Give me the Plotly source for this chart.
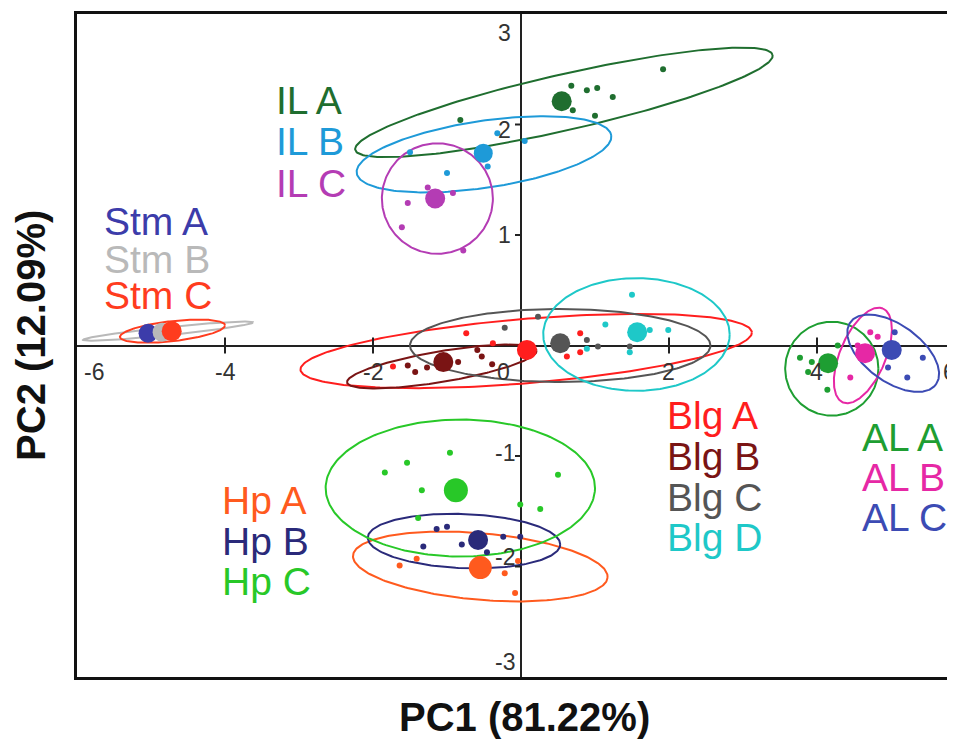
import numpy as np
import plotly.graph_objects as go

# ---------------- data ----------------
groups = ["IL A", "IL B", "IL C", "Stm A", "Stm B", "Stm C",
          "Blg A", "Blg B", "Blg C", "Blg D",
          "AL A", "AL B", "AL C", "Hp A", "Hp B", "Hp C"]

colors = ["#1f6e2f", "#1e9ad8", "#b43cb4", "#3c3caa", "#b9b9b9", "#ff3c1e",
          "#ff1e1e", "#7a1414", "#555555", "#1ec8c8",
          "#1e9e32", "#e628a5", "#3c4bb4", "#ff5a1e", "#2a2a7a", "#28c828"]

# group centroids (PC1, PC2)
centroid_x = [0.55, -0.51, -1.16, -5.04, -4.85, -4.72,
              0.08, -1.05, 0.53, 1.57,
              4.15, 4.65, 5.01, -0.55, -0.58, -0.88]
centroid_y = [2.21, 1.74, 1.33, 0.11, 0.12, 0.13,
              -0.04, -0.15, 0.02, 0.12,
              -0.16, -0.07, -0.04, -2.01, -1.76, -1.31]
centroid_size = [20, 19, 20, 19, 19, 20,
                 20, 20, 20, 20,
                 20, 20, 20, 23, 20, 24]

# individual samples
points_x = {
    "IL A": [0.68, 0.89, 1.03, 1.24, 0.70, 1.00, 1.92, -0.82],
    "IL B": [-1.50, -1.00, -0.45, -0.32, 0.05],
    "IL C": [-1.26, -1.53, -1.61, -0.92, -0.78],
    "Stm A": [],
    "Stm B": [],
    "Stm C": [],
    "Blg A": [0.80, 0.80, 0.62, -0.74, -0.38, -1.73],
    "Blg B": [-1.53, -1.27, -0.85, -0.59, -0.53, -0.39, -1.43],
    "Blg C": [0.23, -0.22, 0.89, 1.04, 1.47],
    "Blg D": [1.50, 1.14, 1.99, 1.74, 1.47, 0.89],
    "AL A": [3.77, 3.93, 4.28, 4.14, 3.88],
    "AL B": [4.72, 4.82, 4.45, 4.55],
    "AL C": [5.05, 5.43, 4.96, 5.22],
    "Hp A": [-1.64, -1.41, -0.22, -0.08, -0.04],
    "Hp B": [-1.14, -1.00, -1.32, -0.80, -0.46, -0.24, -0.01],
    "Hp C": [-0.96, -1.54, -1.84, -1.34, 0.50, -0.01, 0.26, -1.39],
}
points_y = {
    "IL A": [2.35, 2.31, 2.33, 2.25, 2.13, 2.08, 2.50, 2.04],
    "IL B": [1.75, 1.56, 1.62, 1.92, 1.85],
    "IL C": [1.43, 1.29, 1.07, 1.38, 0.86],
    "Stm A": [],
    "Stm B": [],
    "Stm C": [],
    "Blg A": [0.11, -0.06, -0.10, 0.11, 0.02, -0.19],
    "Blg B": [-0.18, -0.20, -0.15, -0.04, -0.10, -0.17, -0.24],
    "Blg C": [0.26, 0.16, 0.05, -0.01, -0.01],
    "Blg D": [0.46, 0.19, 0.14, 0.14, -0.06, -0.03],
    "AL A": [-0.11, -0.15, 0.00, -0.40, -0.24],
    "AL B": [0.12, 0.08, -0.29, 0.00],
    "AL C": [0.12, -0.11, -0.20, -0.29],
    "Hp A": [-1.99, -1.93, -2.06, -2.24, -1.95],
    "Hp B": [-1.66, -1.64, -1.82, -1.80, -1.87, -1.73, -1.73],
    "Hp C": [-0.97, -1.06, -1.15, -1.31, -1.17, -1.44, -1.48, -1.56],
}

# confidence ellipses: centre and two conjugate semi-diameters (PC units)
ell_cx = [0.58, -0.50, -1.13, None, -4.77, -4.71, 0.07, -1.07, 0.53, 1.56,
          4.20, 4.62, 5.03, -0.55, -0.77, -0.82]
ell_cy = [2.20, 1.73, 1.33, None, 0.13, 0.13, -0.05, -0.19, 0.00, 0.10,
          -0.21, -0.09, -0.07, -2.00, -1.77, -1.29]
ell_ux = [2.82, 1.72, 0.75, None, 1.15, 0.71, 3.05, 1.28, 2.03, 1.26,
          0.63, 0.27, 0.58, 1.72, 1.30, 1.82]
ell_uy = [0.43, 0.17, 0.00, None, 0.08, 0.054, 0.17, 0.145, 0.00, 0.00,
          0.00, 0.425, -0.28, -0.10, -0.03, 0.00]
ell_vx = [0.084, 0.06, 0.00, None, 0.005, 0.016, 0.034, 0.04, 0.00, 0.00,
          0.00, 0.284, 0.22, -0.04, 0.00, 0.00]
ell_vy = [-0.247, -0.30, 0.50, None, -0.036, -0.09, -0.29, -0.136, 0.33, 0.51,
          0.425, -0.081, 0.21, -0.30, 0.245, 0.62]

x_ticks = [-6, -4, -2, 0, 2, 4, 6]
y_ticks = [-3, -2, -1, 1, 2, 3]
x_title = "PC1 (81.22%)"
y_title = "PC2 (12.09%)"

# label anchor positions (PC units) for the group names
label_x = [-3.34, -3.34, -3.34, -5.66, -5.66, -5.66,
           1.95, 1.95, 1.95, 1.95,
           4.58, 4.58, 4.58, -4.07, -4.07, -4.07]
label_y = [2.22, 1.85, 1.47, 1.12, 0.78, 0.45,
           -0.63, -1.00, -1.38, -1.74,
           -0.83, -1.19, -1.56, -1.40, -1.77, -2.14]

# ---------------- figure ----------------
X_MAX = 5.865
fig = go.Figure()
t = np.linspace(0, 2 * np.pi, 240)

for i, g in enumerate(groups):
    if ell_cx[i] is None:
        continue
    ex = ell_cx[i] + ell_ux[i] * np.cos(t) + ell_vx[i] * np.sin(t)
    ey = ell_cy[i] + ell_uy[i] * np.cos(t) + ell_vy[i] * np.sin(t)
    fig.add_trace(go.Scatter(x=ex, y=ey, mode="lines",
                             line=dict(color=colors[i], width=2),
                             hoverinfo="skip", showlegend=False))

for i, g in enumerate(groups):
    if points_x[g]:
        fig.add_trace(go.Scatter(x=points_x[g], y=points_y[g], mode="markers",
                                 marker=dict(color=colors[i], size=6),
                                 name=g, showlegend=False))

for i, g in enumerate(groups):
    fig.add_trace(go.Scatter(x=[centroid_x[i]], y=[centroid_y[i]], mode="markers",
                             marker=dict(color=colors[i], size=centroid_size[i]),
                             name=g, showlegend=False))

annotations = []
for i, g in enumerate(groups):
    annotations.append(dict(x=label_x[i], y=label_y[i], xref="x", yref="y",
                            text=g, showarrow=False, xanchor="left", yanchor="middle",
                            font=dict(family="Liberation Sans, Arial, sans-serif",
                                      size=39, color=colors[i])))

tick_font = dict(family="Liberation Sans, Arial, sans-serif", size=23, color="#333333")
x_label_shift = {-6: 17, 0: -17}
for v in x_ticks:
    xpos = v
    shift = x_label_shift.get(v, 0)
    if v > X_MAX:
        # the 6 label sits just inside the cropped right edge
        xpos = X_MAX - 0.07
        shift = 0
    annotations.append(dict(x=xpos, y=0, xref="x", yref="y", text=str(v), showarrow=False,
                            xanchor="center", yanchor="middle",
                            xshift=shift, yshift=-26, font=tick_font))
y_label_shift = {3: -19, 2: -5, 1: 0, -1: 3, -2: 10, -3: 15}
for v in y_ticks:
    annotations.append(dict(x=0, y=v, xref="x", yref="y", text=str(v), showarrow=False,
                            xanchor="center", yanchor="middle",
                            xshift=-16, yshift=y_label_shift[v], font=tick_font))

title_font = dict(family="Liberation Sans, Arial, sans-serif", size=40, color="#111111")
annotations.append(dict(x=0.51, y=-0.06, xref="paper", yref="paper",
                        text="<b>" + x_title + "</b>", showarrow=False,
                        xanchor="center", yanchor="middle", font=title_font))
annotations.append(dict(x=-0.0524, y=0.516, xref="paper", yref="paper",
                        text="<b>" + y_title + "</b>", showarrow=False, textangle=-90,
                        xanchor="center", yanchor="middle", font=title_font))

shapes = []
for v in x_ticks:
    if v in (-6, 0) or v > X_MAX:
        continue
    shapes.append(dict(type="line", xref="x", yref="y", x0=v, x1=v,
                       ysizemode="pixel", yanchor=0, y0=-8, y1=8,
                       line=dict(color="#222222", width=2)))
for v in y_ticks:
    if v in (-3, 3):
        continue
    shapes.append(dict(type="line", xref="x", yref="y", y0=v, y1=v,
                       xsizemode="pixel", xanchor=0, x0=-6, x1=0,
                       line=dict(color="#222222", width=2)))

# the page body has an 8px default margin, so the figure is sized to fit the window
fig.update_layout(
    width=947, height=733,
    margin=dict(l=69, r=0, t=6, b=64),
    paper_bgcolor="white", plot_bgcolor="white",
    xaxis=dict(range=[-6, X_MAX], showgrid=False, showticklabels=False, ticks="",
               zeroline=True, zerolinecolor="#222222", zerolinewidth=2,
               showline=True, mirror=True, linecolor="#111111", linewidth=2.5),
    yaxis=dict(range=[-3, 3], showgrid=False, showticklabels=False, ticks="",
               zeroline=True, zerolinecolor="#222222", zerolinewidth=2,
               showline=True, mirror=False, linecolor="#111111", linewidth=2.5),
    annotations=annotations,
    shapes=shapes,
)

fig.write_html("out.html")
